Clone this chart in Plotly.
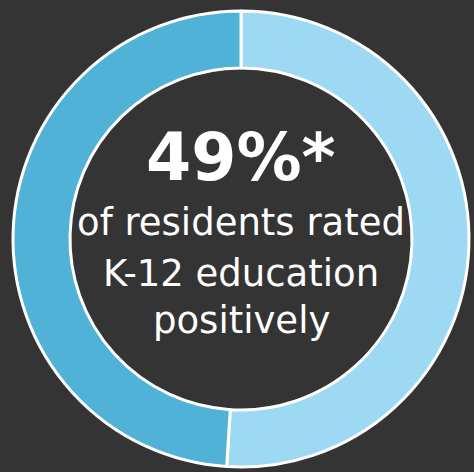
import plotly.graph_objects as go

labels = ["Rated positively", "Other"]
values = [49, 51]
colors = ["#50b2d6", "#9dd9f3"]
headline = "49%*"
caption_lines = ["of residents rated", "K-12 education", "positively"]

W, H = 474, 472
cx, cy_top = 241, 239
R = 228

fig = go.Figure(go.Pie(
    labels=labels[::-1], values=values[::-1],
    marker=dict(colors=colors[::-1], line=dict(color="white", width=3)),
    hole=0.75, sort=False, direction="clockwise", rotation=0,
    textinfo="none", hoverinfo="skip", showlegend=False,
    domain=dict(x=[(cx - R) / W, (cx + R) / W],
                y=[(H - cy_top - R) / H, (H - cy_top + R) / H]),
))

font = "DejaVu Sans, Verdana, sans-serif"
anns = [dict(text="<b>%s</b>" % headline, x=cx / W, y=1 - 157 / H, size=65)]
ys = [222, 273, 320]
for t, y in zip(caption_lines, ys):
    anns.append(dict(text=t, x=cx / W, y=1 - y / H, size=37))

fig.update_layout(
    width=W, height=H, margin=dict(l=0, r=0, t=0, b=0),
    paper_bgcolor="#343434", plot_bgcolor="#343434",
    annotations=[dict(text=a["text"], x=a["x"], y=a["y"], xref="paper", yref="paper",
                      showarrow=False, xanchor="center", yanchor="middle",
                      font=dict(family=font, size=a["size"], color="white"))
                 for a in anns],
)
fig.write_html("out.html", config={"displayModeBar": False},
               post_script="document.body.style.margin='0';document.body.style.background='#343434';")
